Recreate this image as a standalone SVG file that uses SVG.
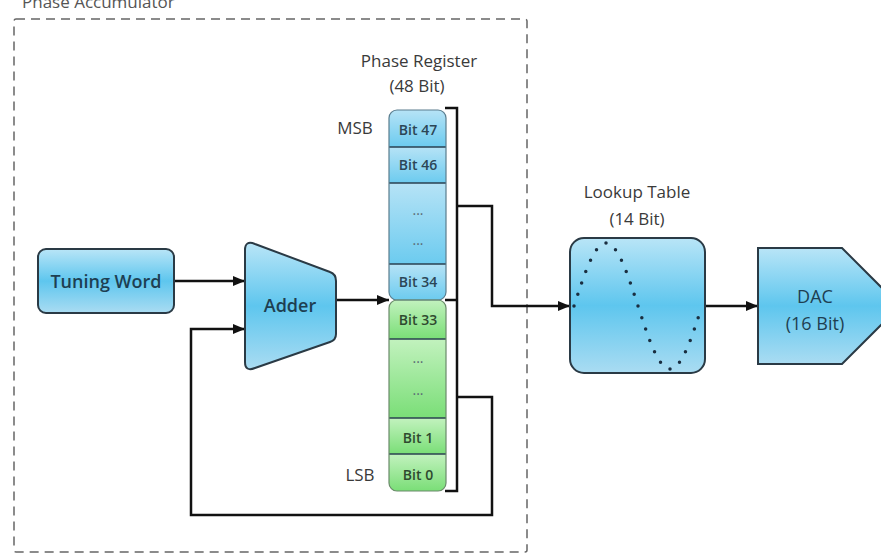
<svg xmlns="http://www.w3.org/2000/svg" width="881" height="558" viewBox="0 0 881 558">
<defs>
<style>
.lbl{font-family:"Open Sans","Liberation Sans",sans-serif;fill:#3a3a3a;font-size:17px}
.box{font-family:"Open Sans","Liberation Sans",sans-serif;fill:#1e3f52;font-size:18px}
.bit{font-family:"Open Sans","Liberation Sans",sans-serif;fill:#2c4656;font-size:14px;font-weight:600}
.bitg{font-family:"Open Sans","Liberation Sans",sans-serif;fill:#2f4a2f;font-size:14px;font-weight:600}
.dots{font-family:"Open Sans","Liberation Sans",sans-serif;fill:#5a6a74;font-size:14px}
.shape{stroke:#2a3a45;stroke-width:2;fill:url(#blue)}
.wire{fill:none;stroke:#111;stroke-width:2.5}
.div{stroke:#2a4050;stroke-width:1.5}
</style>
<linearGradient id="blue" x1="0" y1="0" x2="0" y2="1">
<stop offset="0" stop-color="#b9e5f7"/>
<stop offset="0.5" stop-color="#5ec6ee"/>
<stop offset="1" stop-color="#aadcf2"/>
</linearGradient>
<linearGradient id="cellb" x1="0" y1="0" x2="0" y2="1">
<stop offset="0" stop-color="#b6e3f6"/>
<stop offset="1" stop-color="#6ccbef"/>
</linearGradient>
<linearGradient id="cellg" x1="0" y1="0" x2="0" y2="1">
<stop offset="0" stop-color="#c2f2be"/>
<stop offset="1" stop-color="#7ade77"/>
</linearGradient>
<clipPath id="cb"><rect x="389" y="110" width="57" height="190" rx="8"/></clipPath>
<clipPath id="cg"><rect x="389" y="300" width="57" height="191" rx="8"/></clipPath>
<marker id="ah" markerUnits="userSpaceOnUse" markerWidth="12" markerHeight="10" refX="12" refY="5" orient="auto">
<path d="M0,0 L12,5 L0,10 z" fill="#111"/>
</marker>
</defs>

<text x="22" y="8" style="font-family:'Open Sans','Liberation Sans',sans-serif;font-size:17px;fill:#555">Phase Accumulator</text>
<rect x="14" y="19" width="513" height="533" rx="2" fill="none" stroke="#666" stroke-width="1.5" stroke-dasharray="9 6"/>

<g id="connectors">
<path class="wire" d="M174,281 H245" marker-end="url(#ah)"/>
<path class="wire" d="M336,300 H389" marker-end="url(#ah)"/>
<path class="wire" d="M445,108 H457 V491 H445"/>
<path class="wire" d="M445,300 H457"/>
<path class="wire" d="M457,206 H492 V306 H570" marker-end="url(#ah)"/>
<path class="wire" d="M457,397 H492 V515 H191 V329 H245" marker-end="url(#ah)"/>
<path class="wire" d="M705,306 H758" marker-end="url(#ah)"/>
</g>

<g id="tuning-word">
<rect class="shape" x="38" y="249" width="136" height="64" rx="8"/>
<text class="box" x="106" y="288" text-anchor="middle" font-weight="600">Tuning Word</text>
</g>

<g id="adder">
<path class="shape" d="M245,250 Q245,240 255,244 L330,272 Q336,274 336,281 V334 Q336,340 330,342 L255,368 Q245,372 245,362 Z"/>
<text class="box" x="290" y="312" text-anchor="middle" font-weight="600">Adder</text>
</g>

<g id="phase-register">
<text class="lbl" x="419" y="67" text-anchor="middle" font-size="18">Phase Register</text>
<text class="lbl" x="417" y="92" text-anchor="middle">(48 Bit)</text>
<text class="lbl" x="355" y="134" text-anchor="middle">MSB</text>
<text class="lbl" x="360" y="481" text-anchor="middle">LSB</text>
<g clip-path="url(#cb)">
<rect x="389" y="110" width="57" height="37" fill="url(#cellb)"/>
<rect x="389" y="147" width="57" height="36" fill="url(#cellb)"/>
<rect x="389" y="183" width="57" height="81" fill="url(#cellb)"/>
<rect x="389" y="264" width="57" height="36" fill="url(#cellb)"/>
</g>
<g clip-path="url(#cg)">
<rect x="389" y="300" width="57" height="39" fill="url(#cellg)"/>
<rect x="389" y="339" width="57" height="79" fill="url(#cellg)"/>
<rect x="389" y="418" width="57" height="36" fill="url(#cellg)"/>
<rect x="389" y="454" width="57" height="37" fill="url(#cellg)"/>
</g>
<line class="div" x1="389" y1="147" x2="446" y2="147"/>
<line class="div" x1="389" y1="183" x2="446" y2="183"/>
<line class="div" x1="389" y1="264" x2="446" y2="264"/>
<line class="div" x1="389" y1="339" x2="446" y2="339"/>
<line class="div" x1="389" y1="418" x2="446" y2="418"/>
<line class="div" x1="389" y1="454" x2="446" y2="454"/>
<rect x="389" y="110" width="57" height="190" rx="8" fill="none" stroke="#5a7d8e" stroke-width="1.2"/>
<rect x="389" y="300" width="57" height="191" rx="8" fill="none" stroke="#6a8a6a" stroke-width="1.2"/>
<text class="bit" x="418" y="135" text-anchor="middle">Bit 47</text>
<text class="bit" x="418" y="170" text-anchor="middle">Bit 46</text>
<text class="dots" x="418" y="215" text-anchor="middle">...</text>
<text class="dots" x="418" y="245" text-anchor="middle">...</text>
<text class="bit" x="418" y="287" text-anchor="middle">Bit 34</text>
<text class="bitg" x="418" y="325" text-anchor="middle">Bit 33</text>
<text class="dots" x="418" y="363" text-anchor="middle">...</text>
<text class="dots" x="418" y="395" text-anchor="middle">...</text>
<text class="bitg" x="418" y="443" text-anchor="middle">Bit 1</text>
<text class="bitg" x="418" y="480" text-anchor="middle">Bit 0</text>
</g>

<g id="lookup-table">
<text class="lbl" x="637" y="198" text-anchor="middle" font-size="18">Lookup Table</text>
<text class="lbl" x="637" y="225" text-anchor="middle">(14 Bit)</text>
<rect class="shape" x="570" y="238" width="135" height="135" rx="14"/>
<path d="M574,306 C584.44,273.73 594.42,243 606,243 C617.58,243 627.56,273.73 638,306 C648.44,338.27 658.42,369 670,369 C681.58,369 691.56,338.27 702,306" fill="none" stroke="#1a2e40" stroke-width="3.5" stroke-linecap="round" pathLength="24" stroke-dasharray="0 1"/>
</g>

<g id="dac">
<path class="shape" d="M758,248 H842 L900,306 L842,364 H758 Z"/>
<text class="box" x="815" y="303" text-anchor="middle">DAC</text>
<text class="box" x="815" y="330" text-anchor="middle">(16 Bit)</text>
</g>
</svg>
